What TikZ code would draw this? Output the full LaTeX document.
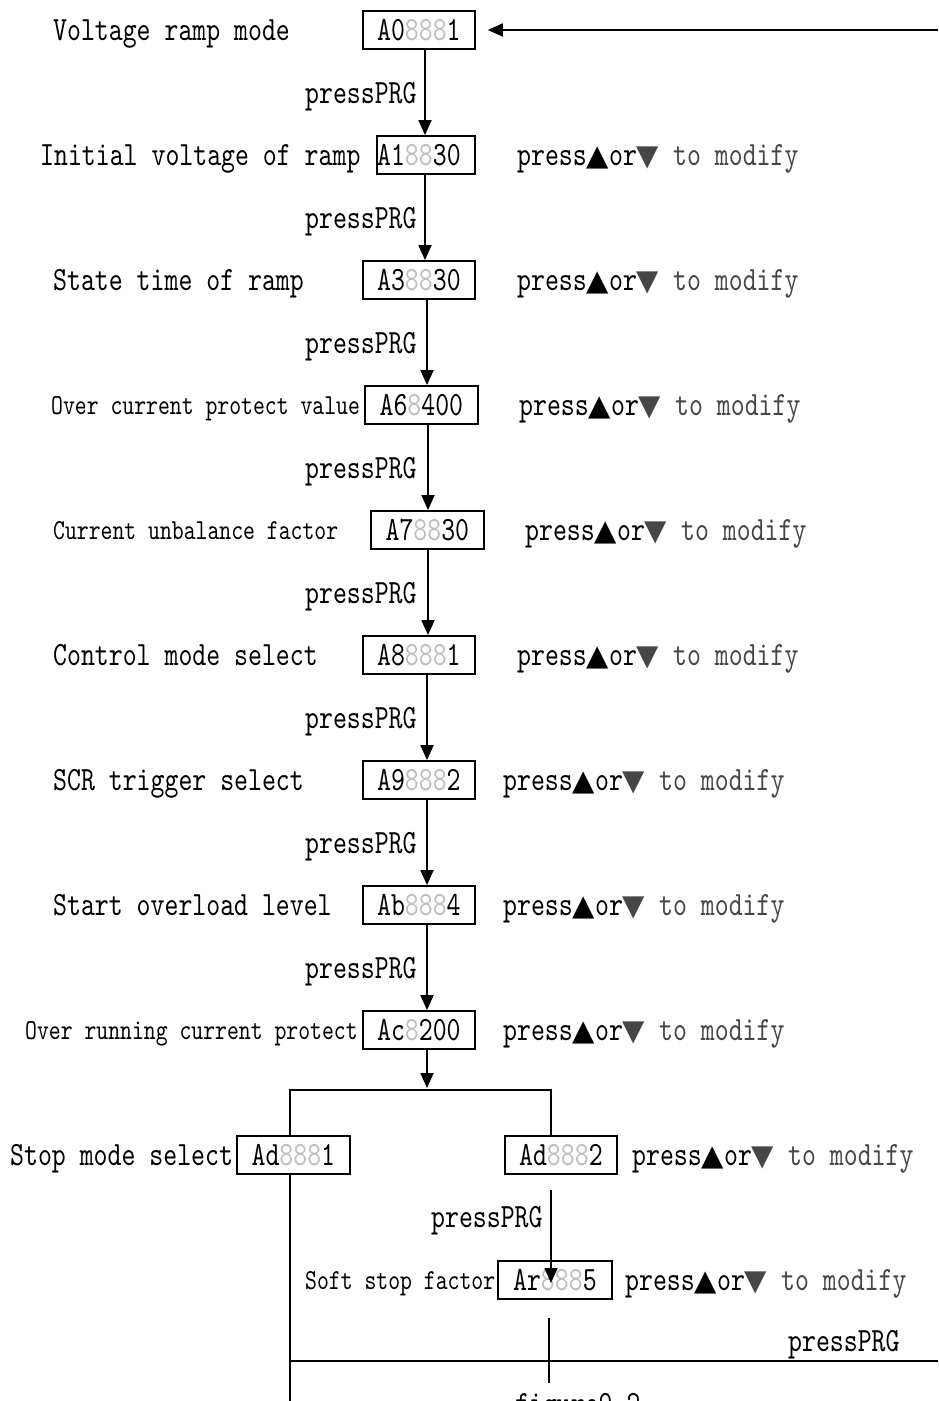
\documentclass[tikz,border=0pt]{standalone}
\usepackage{fontspec}
\setmonofont[FakeStretch=0.78]{lmmono10-regular.otf}
\newfontfamily\symf{DejaVu Sans}
\usetikzlibrary{arrows.meta}
\definecolor{lg}{RGB}{190,190,190}
\definecolor{dg}{RGB}{70,70,70}
\newcommand\gr[1]{\textcolor{lg}{#1}}
\newcommand\bigf{\fontsize{34}{40}\selectfont\ttfamily}
\newcommand\smf{\fontsize{29}{34}\selectfont\ttfamily}
\newcommand\modtxt{press{\symf\fontsize{29}{29}\selectfont ▲}or{\color{dg}\symf\fontsize{29}{29}\selectfont ▼} \textcolor{dg}{to modify}}
\begin{document}
\begin{tikzpicture}[x=1pt,y=-1pt,
  every node/.style={inner sep=0pt},
  box/.style={draw,line width=1.8pt,minimum height=38pt,anchor=west,font=\bigf,text height=21pt,text depth=0pt},
  lbl/.style={anchor=base west,font=\bigf},
  slbl/.style={anchor=base west,font=\smf},
  arr/.style={line width=1.8pt,-{Triangle[length=15pt,width=13pt]}},
  ln/.style={line width=1.5pt}]
\useasboundingbox (0,0) rectangle (938,1401);
% left labels
\node[lbl] (l1) at (53,40) {Voltage ramp mode};
\node[lbl] (l2) at (40,165) {Initial voltage of ramp};
\node[lbl] (l3) at (53,290) {State time of ramp};
\node[slbl] (l4) at (51,414) {Over current protect value};
\node[slbl] (l5) at (53,539) {Current unbalance factor};
\node[lbl] (l6) at (53,665) {Control mode select};
\node[lbl] (l7) at (53,790) {SCR trigger select};
\node[lbl] (l8) at (53,915) {Start overload level};
\node[slbl] (l9) at (25,1039) {Over running current protect};
\node[lbl] (l10) at (10,1165) {Stop mode select};
\node[slbl] (l12) at (305,1289) {Soft stop factor};
% pressPRG labels
\node[lbl] (p1) at (305,103) {pressPRG};
\node[lbl] (p2) at (305,228) {pressPRG};
\node[lbl] (p3) at (305,353) {pressPRG};
\node[lbl] (p4) at (305,478) {pressPRG};
\node[lbl] (p5) at (305,603) {pressPRG};
\node[lbl] (p6) at (305,728) {pressPRG};
\node[lbl] (p7) at (305,853) {pressPRG};
\node[lbl] (p8) at (305,978) {pressPRG};
\node[lbl] (p9) at (431,1227) {pressPRG};
\node[lbl] (p10) at (788,1351) {pressPRG};
% modify labels
\node[lbl] (m2) at (517,165) {\modtxt};
\node[lbl] (m3) at (517,290) {\modtxt};
\node[lbl] (m4) at (519,415) {\modtxt};
\node[lbl] (m5) at (525,540) {\modtxt};
\node[lbl] (m6) at (517,665) {\modtxt};
\node[lbl] (m7) at (503,790) {\modtxt};
\node[lbl] (m8) at (503,915) {\modtxt};
\node[lbl] (m9) at (503,1040) {\modtxt};
\node[lbl] (m11) at (632,1165) {\modtxt};
\node[lbl] (m12) at (625,1290) {\modtxt};
% boxes
\node[box,minimum width=112pt] (b1) at (362,30) {A0\gr{888}1};
\node[box,minimum width=98pt] (b2) at (376,155) {A1\gr{88}30\hspace*{14pt}};
\node[box,minimum width=112pt] (b3) at (362,280) {A3\gr{88}30};
\node[box,minimum width=113pt] (b4) at (364,405) {A6\gr{8}400};
\node[box,minimum width=113pt] (b5) at (370,530) {A7\gr{88}30};
\node[box,minimum width=112pt] (b6) at (362,655) {A8\gr{888}1};
\node[box,minimum width=112pt] (b7) at (362,780) {A9\gr{888}2};
\node[box,minimum width=112pt] (b8) at (362,905) {Ab\gr{888}4};
\node[box,minimum width=112pt] (b9) at (362,1030) {Ac\gr{8}200};
\node[box,minimum width=113pt] (b10) at (236,1155) {Ad\gr{888}1};
\node[box,minimum width=112pt] (b11) at (504,1155) {Ad\gr{888}2};
\node[box,minimum width=114pt] (b12) at (497,1280) {Ar\gr{888}5};
% figure caption (cut at the bottom, as in the reference)
\node[lbl] (fig) at (515,1414) {figure9.2};
% coordinates
\coordinate (xa) at (425,0);
\coordinate (xb) at (427,0);
\coordinate (xc) at (428,0);
\coordinate (in) at (938,30);
\coordinate (sp) at (427,1088);
\coordinate (L) at (290,1090);
\coordinate (R) at (551,1090);
\coordinate (ar0) at (551,1190);
\coordinate (ar1) at (551,1283);
\coordinate (c0) at (549,1318);
\coordinate (c1) at (549,1383);
\coordinate (h0) at (290,1361);
\coordinate (h1) at (938,1361);
\coordinate (bot) at (290,1401);
% connectors
\draw[arr,shorten >=12pt] (in) -- (b1.east);
\draw[arr] (b1.south -| xa) -- (b2.north -| xa);
\draw[arr] (b2.south -| xa) -- (b3.north -| xa);
\draw[arr] (b3.south -| xb) -- (b4.north -| xb);
\draw[arr] (b4.south -| xc) -- (b5.north -| xc);
\draw[arr] (b5.south -| xc) -- (b6.north -| xc);
\draw[arr] (b6.south -| xb) -- (b7.north -| xb);
\draw[arr] (b7.south -| xb) -- (b8.north -| xb);
\draw[arr] (b8.south -| xb) -- (b9.north -| xb);
\draw[arr] (b9.south -| xb) -- (sp);
\draw[ln] (b10.north -| L) -- (L) -- (R) -- (b11.north -| R);
\draw[arr] (ar0) -- (ar1);
\draw[ln] (c0) -- (c1);
\draw[ln] (h0) -- (h1);
\draw[ln] (b10.south -| L) -- (bot);
\end{tikzpicture}
\end{document}
